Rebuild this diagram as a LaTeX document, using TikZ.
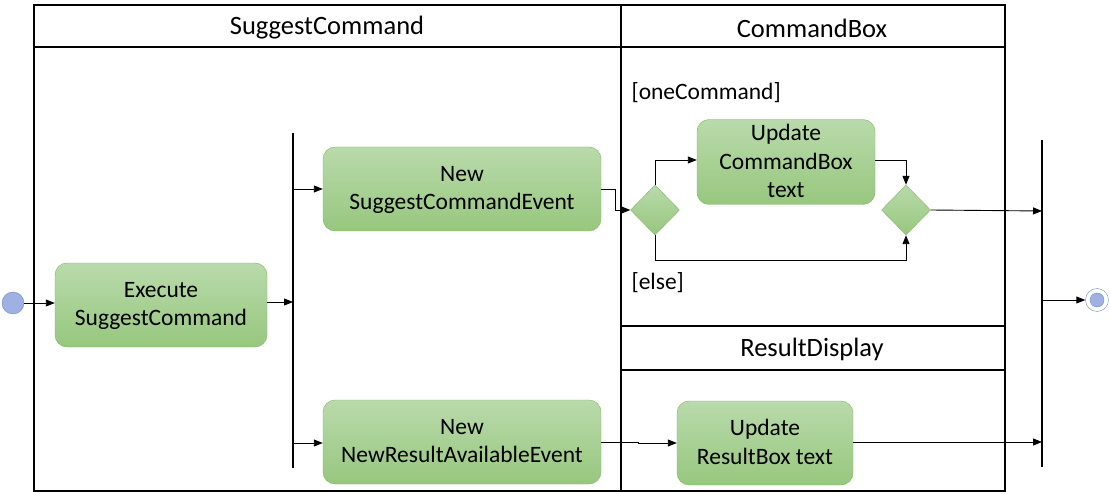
\documentclass[tikz,border=0pt]{standalone}
\usepackage{fontspec}
\setmainfont{Carlito}
\usetikzlibrary{arrows.meta,shapes.geometric}

\definecolor{actline}{HTML}{82B366}
\definecolor{acttop}{HTML}{B9DAAB}
\definecolor{actbot}{HTML}{97C77E}
\definecolor{initline}{HTML}{6C8EBF}
\definecolor{initfill}{HTML}{9EB1E2}

\begin{document}
\begin{tikzpicture}[x=1pt, y=-1pt,
    lane/.style={draw, line width=1.3pt},
    action/.style={draw=actline, rounded corners=12pt, top color=acttop, bottom color=actbot,
        font=\fontsize{23.5}{28.5}\selectfont, align=center, inner sep=0pt, text depth=2pt},
    choice/.style={diamond, draw=actline, top color=acttop, bottom color=actbot,
        minimum width=49pt, minimum height=50pt, inner sep=0pt},
    bar/.style={line width=1.2pt},
    flow/.style={-{Triangle[length=9pt,width=7pt]}, line width=0.9pt},
    guard/.style={font=\fontsize{23.5}{28}\selectfont, anchor=west},
    title/.style={font=\fontsize{26.5}{30}\selectfont}]

    \useasboundingbox (0,0) rectangle (1110,494);

    % Swimlanes
    \draw[lane] (34,5) rectangle (621,491);
    \draw[lane] (34,47) -- (621,47);
    \draw[lane] (621,5) rectangle (1005,326);
    \draw[lane] (621,47) -- (1005,47);
    \draw[lane] (621,326) rectangle (1005,491);
    \draw[lane] (621,370) -- (1005,370);

    \node[title] (lsc) at (327,28) {SuggestCommand};
    \node[title] (lcb) at (812,28) {CommandBox};
    \node[title] (lrd) at (812,349) {ResultDisplay};

    % Start / end
    \node[circle, draw=initline, fill=initfill, minimum size=22pt, inner sep=0pt] (start) at (13,303) {};
    \node[circle, draw=initline, fill=white, minimum size=23pt, inner sep=0pt] (stop) at (1097,300) {};
    \node[circle, draw=initline, fill=initfill, minimum size=14pt, inner sep=0pt] at (stop) {};

    % Actions
    \node[action, minimum width=212pt, minimum height=84pt] (exec) at (161,305) {Execute\\SuggestCommand};
    \node[action, minimum width=278pt, minimum height=84pt] (evsug) at (462,189) {New\\SuggestCommandEvent};
    \node[action, minimum width=278pt, minimum height=84pt] (evres) at (462,442) {New\\NewResultAvailableEvent};
    \node[action, minimum width=178pt, minimum height=85pt] (upcb) at (786,162) {Update\\CommandBox\\text};
    \node[action, minimum width=176pt, minimum height=84pt] (uprd) at (765,443) {Update\\ResultBox text};

    % Decisions
    \node[choice] (split) at (655,210) {};
    \node[choice] (merge) at (906,210) {};

    % Fork bars
    \coordinate (forkA) at (293,133);
    \coordinate (forkB) at (293,468);
    \coordinate (joinA) at (1042,140);
    \coordinate (joinB) at (1042,467);
    \draw[bar] (forkA) -- (forkB);
    \draw[bar] (joinA) -- (joinB);

    % Flows
    \draw[flow] (start) -- (exec.west |- start);
    \draw[flow] (exec.east |- 0,302) -- (293,302);
    \draw[flow] (293,189) -- (evsug.west);
    \draw[flow] (293,443) -- (evres.west |- 0,443);
    \draw[flow] (evsug.east) -- (615,189) -- (615,210) -- (split.west);
    \draw[flow] (split.north) |- (upcb.west |- 0,160);
    \draw[flow] (upcb.east |- 0,160) -| (merge.north);
    \draw[flow] (split.south) |- (906,260) -- (merge.south);
    \draw[flow] (merge.east) -- (1042,211);
    \draw[flow] (evres.east) -- (638,442) -- (638,443) -- (uprd.west);
    \draw[flow] (uprd.east |- 0,442) -- (1042,442);
    \draw[flow] (1042,300) -- (stop.west);

    % Guards
    \node[guard] (gone) at (628,93) {[oneCommand]};
    \node[guard] (gelse) at (628,283) {[else]};

\end{tikzpicture}
\end{document}
